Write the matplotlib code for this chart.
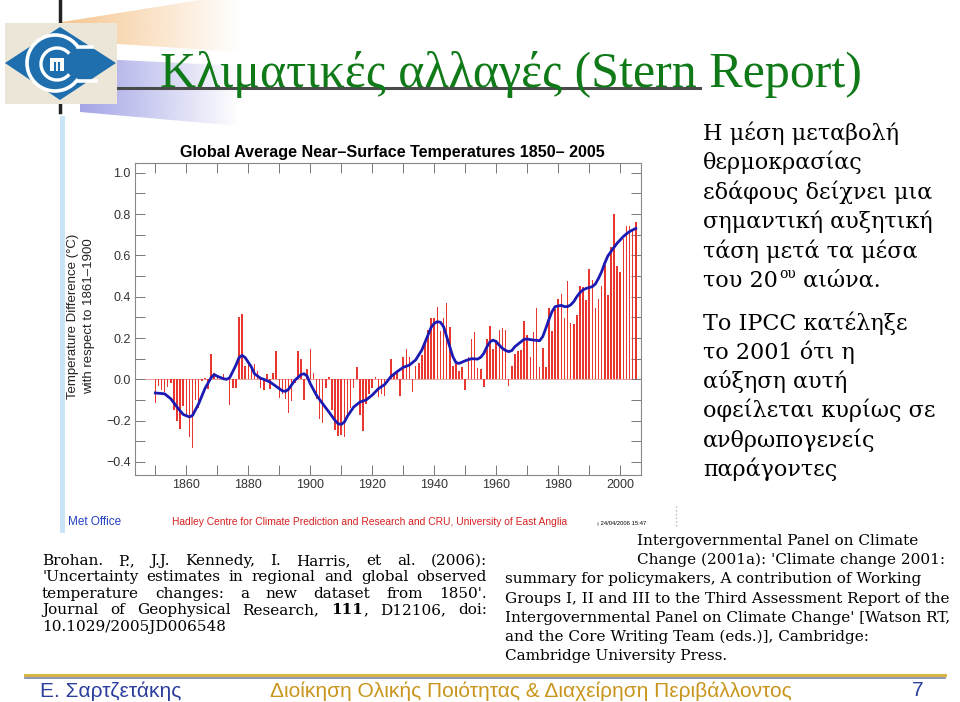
import numpy as np
import matplotlib
matplotlib.use("Agg")
import matplotlib.pyplot as plt
import matplotlib.colors as mcolors
from matplotlib.patches import Polygon, Rectangle, Arc

# annual anomaly (deg C, relative to 1861-1900)
years = np.arange(1850, 2006)
anomaly = [
    -0.115, -0.03, -0.05, -0.06, -0.035, -0.02, -0.15, -0.20, -0.24, -0.13,   # 1850s
    -0.18, -0.28, -0.33, -0.10, -0.14, -0.01, 0.005, -0.045, 0.125, 0.03,     # 1860s
    0.02, 0.01, 0.025, -0.005, -0.125, -0.04, -0.04, 0.30, 0.315, 0.065,      # 1870s
    0.075, 0.065, 0.075, 0.04, -0.04, -0.05, 0.025, -0.045, 0.03, 0.135,      # 1880s
    -0.09, -0.07, -0.095, -0.165, -0.105, -0.02, 0.135, 0.10, -0.10, 0.05,    # 1890s
    0.145, 0.03, -0.095, -0.19, -0.21, -0.04, 0.01, -0.15, -0.245, -0.275,    # 1900s
    -0.27, -0.28, -0.18, -0.14, -0.04, 0.06, -0.175, -0.25, -0.12, -0.07,     # 1910s
    -0.04, 0.01, -0.085, -0.07, -0.08, -0.01, 0.10, 0.03, 0.03, -0.08,        # 1920s
    0.11, 0.145, 0.11, -0.06, 0.065, 0.08, 0.12, 0.18, 0.24, 0.295,           # 1930s
    0.295, 0.35, 0.235, 0.295, 0.37, 0.255, 0.065, 0.075, 0.04, 0.06,         # 1940s
    -0.05, 0.11, 0.195, 0.23, 0.055, 0.05, -0.035, 0.195, 0.26, 0.145,        # 1950s
    0.19, 0.24, 0.25, 0.24, -0.03, 0.065, 0.125, 0.135, 0.14, 0.28,           # 1960s
    0.215, 0.11, 0.23, 0.345, 0.06, 0.15, 0.06, 0.345, 0.235, 0.34,           # 1970s
    0.39, 0.415, 0.295, 0.475, 0.275, 0.27, 0.31, 0.45, 0.445, 0.385,         # 1980s
    0.535, 0.48, 0.345, 0.39, 0.45, 0.555, 0.41, 0.64, 0.80, 0.55,            # 1990s
    0.52, 0.68, 0.74, 0.74, 0.72, 0.76,                                       # 2000s
]

# smoothed curve
smooth_years = [
    1850, 1853, 1855, 1857, 1859, 1861, 1862, 1864, 1866, 1868, 1869, 1870,
    1872, 1873, 1874, 1876, 1877, 1878, 1879, 1881, 1882, 1884, 1885, 1887,
    1889, 1891, 1892, 1893, 1895, 1897, 1898, 1899, 1900, 1902, 1904, 1906,
    1908, 1909, 1910, 1911, 1912, 1914, 1916, 1918, 1920, 1922, 1924, 1926,
    1928, 1930, 1932, 1934, 1936, 1938, 1939, 1940, 1941, 1942, 1943, 1944,
    1945, 1946, 1947, 1948, 1950, 1952, 1954, 1955, 1956, 1957, 1958, 1959,
    1960, 1961, 1962, 1963, 1964, 1965, 1966, 1968, 1969, 1970, 1972, 1974,
    1975, 1976, 1977, 1978, 1979, 1980, 1981, 1982, 1983, 1984, 1985, 1986,
    1987, 1988, 1989, 1990, 1991, 1992, 1993, 1994, 1995, 1996, 1997, 1998,
    1999, 2000, 2001, 2002, 2003, 2004, 2005,
]
smooth_vals = [
    -0.066, -0.07, -0.094, -0.134, -0.17, -0.182, -0.175, -0.118, -0.045, 0.008, 0.023, 0.015,
    0.003, 0.0, 0.008, 0.068, 0.105, 0.116, 0.105, 0.06, 0.027, 0.005, 0.0, -0.013,
    -0.034, -0.056, -0.058, -0.048, -0.005, 0.023, 0.027, 0.015, -0.021, -0.077, -0.118, -0.158,
    -0.199, -0.215, -0.218, -0.207, -0.178, -0.134, -0.11, -0.10, -0.076, -0.045, -0.025, 0.013,
    0.037, 0.058, 0.069, 0.094, 0.142, 0.215, 0.252, 0.271, 0.279, 0.276, 0.255, 0.207,
    0.158, 0.11, 0.081, 0.077, 0.09, 0.10, 0.098, 0.107, 0.126, 0.158, 0.182, 0.19,
    0.182, 0.165, 0.15, 0.14, 0.134, 0.139, 0.158, 0.182, 0.194, 0.195, 0.19, 0.187,
    0.207, 0.247, 0.29, 0.328, 0.352, 0.355, 0.358, 0.352, 0.352, 0.36, 0.376, 0.40,
    0.42, 0.433, 0.44, 0.444, 0.449, 0.462, 0.489, 0.521, 0.562, 0.597, 0.618, 0.639,
    0.659, 0.675, 0.691, 0.704, 0.715, 0.723, 0.73,
]

xticks = [1860, 1880, 1900, 1920, 1940, 1960, 1980, 2000]
yticks = [-0.4, -0.2, 0.0, 0.2, 0.4, 0.6, 0.8, 1.0]

title = "Κλιματικές αλλαγές (Stern Report)"
bullets1 = ["Η μέση μεταβολή", "θερμοκρασίας", "εδάφους δείχνει μια",
            "σημαντική αυξητική", "τάση μετά τα μέσα"]
bullets2 = ["Το IPCC κατέληξε", "το 2001 ότι η", "αύξηση αυτή",
            "οφείλεται κυρίως σε", "ανθρωπογενείς", "παράγοντες"]
ref_left = [
    [[("Brohan.", "normal")], [("P.,", "normal")], [("J.J.", "normal")], [("Kennedy,", "normal")],
     [("I.", "normal")], [("Harris,", "normal")], [("et", "normal")], [("al.", "normal")],
     [("(2006):", "normal")]],
    [[(w, "normal")] for w in "'Uncertainty estimates in regional and global observed".split()],
    [[(w, "normal")] for w in "temperature changes: a new dataset from 1850'.".split()],
    [[("Journal", "normal")], [("of", "normal")], [("Geophysical", "normal")], [("Research,", "normal")],
     [("111", "bold"), (",", "normal")], [("D12106,", "normal")], [("doi:", "normal")]],
]
ref_left_last = "10.1029/2005JD006548"
ref_right = [
    "Intergovernmental Panel on Climate",
    "Change (2001a): 'Climate change 2001:",
    "summary for policymakers, A contribution of Working",
    "Groups I, II and III to the Third Assessment Report of the",
    "Intergovernmental Panel on Climate Change' [Watson RT,",
    "and the Core Writing Team (eds.)], Cambridge:",
    "Cambridge University Press.",
]

W, H = 960, 702
fig = plt.figure(figsize=(W / 100, H / 100), dpi=100)
fig.patch.set_facecolor("white")
bg = fig.add_axes([0, 0, 1, 1])
bg.axis("off")


def fade(ax, verts, color, x0, x1, a0):
    poly = Polygon(verts, closed=True, facecolor="none", edgecolor="none")
    ax.add_patch(poly)
    img = np.zeros((1, 256, 4))
    img[..., :3] = mcolors.to_rgb(color)
    img[..., 3] = np.linspace(a0, 0, 256)
    ys = [v[1] for v in verts]
    im = ax.imshow(img, extent=(x0, x1, max(ys), min(ys)), aspect="auto",
                   interpolation="bilinear", zorder=1)
    im.set_clip_path(poly)


# header decorations
fade(bg, [(62, 22), (200, 0), (240, 0), (240, 52), (118, 44), (62, 25)], "#f3b874", 62, 240, 0.8)
fade(bg, [(80, 58), (240, 66), (240, 126), (80, 112)], "#8c8ee0", 80, 240, 0.8)
bg.plot([60, 60], [0, 24], color="#222222", lw=2.5, zorder=2)
bg.plot([60, 60], [103, 112], color="#222222", lw=2.5, zorder=2)
bg.plot([62, 62], [118, 530], color="#c8e4f6", lw=3.5, zorder=2)
bg.plot([118, 700], [88, 88], color="#4a4a4a", lw=2.2, zorder=2)

# logo
bg.add_patch(Rectangle((5, 23), 112, 81, facecolor="#ebe6d8", edgecolor="none", zorder=3))
bg.add_patch(Polygon([(5, 63), (60, 27), (116, 63), (60, 100)], closed=True,
                     facecolor="#1f6fae", edgecolor="none", zorder=4))
bg.add_patch(Arc((55, 63), 56, 56, theta1=35, theta2=325, color="white", lw=2.6, zorder=5))
bg.add_patch(Arc((57, 64), 32, 32, theta1=40, theta2=320, color="white", lw=2.4, zorder=5))
bg.plot([78, 96], [81, 81], color="white", lw=2.6, zorder=5)
bg.plot([78, 92], [47, 47], color="white", lw=2.6, zorder=5)
bg.add_patch(Rectangle((50, 58), 14, 13, facecolor="white", edgecolor="none", zorder=5))
bg.plot([55, 55], [63, 70], color="#1f6fae", lw=1.5, zorder=6)
bg.plot([59, 59], [63, 70], color="#1f6fae", lw=1.5, zorder=6)

bg.text(160, 75, title, fontsize=36, family="Liberation Serif", color="#107a18",
        ha="left", va="center", zorder=6)

# right column text
for i, s in enumerate(bullets1):
    bg.text(703, 133 + i * 29.5, s, fontsize=16, family="DejaVu Serif", ha="left", va="center")
r = fig.canvas.get_renderer()
t = bg.text(703, 280.5, "του 20", fontsize=16, family="DejaVu Serif", ha="left", va="center")
w1 = t.get_window_extent(renderer=r).width
t2 = bg.text(703 + w1 + 1, 274, "ου", fontsize=10, family="DejaVu Serif", ha="left", va="center")
w2 = t2.get_window_extent(renderer=r).width
bg.text(703 + w1 + w2 + 1, 280.5, " αιώνα.", fontsize=16, family="DejaVu Serif", ha="left", va="center")
for i, s in enumerate(bullets2):
    bg.text(703, 323 + i * 29.2, s, fontsize=16, family="DejaVu Serif", ha="left", va="center")


def justified(words, x0, x1, y, size):
    items, widths = [], []
    for word in words:
        segs, w = [], 0
        for s, wt in word:
            tt = bg.text(0, y, s, fontsize=size, fontweight=wt, family="DejaVu Serif",
                         ha="left", va="center")
            segs.append((tt, w))
            w += tt.get_window_extent(renderer=r).width
        items.append(segs)
        widths.append(w)
    gap = (x1 - x0 - sum(widths)) / (len(words) - 1)
    x = x0
    for segs, w in zip(items, widths):
        for tt, off in segs:
            tt.set_x(x + off)
        x += w + gap


for i, line in enumerate(ref_left):
    justified(line, 42, 487, 561 + i * 16.4, 11)
bg.text(42, 561 + 4 * 16.4, ref_left_last, fontsize=11, family="DejaVu Serif", ha="left", va="center")

for i, s in enumerate(ref_right):
    x = 637 if i < 2 else 505
    bg.text(x, 541 + i * 19.2, s, fontsize=11, family="DejaVu Serif", ha="left", va="center")

# footer
bg.plot([25, 945], [675, 675], color="#d8b443", lw=2.2, zorder=2)
bg.plot([25, 945], [677.5, 677.5], color="#7c83a8", lw=1.2, zorder=2)
foot = "Liberation Sans"
bg.text(40, 691, "Ε. Σαρτζετάκης", fontsize=15, family=foot, color="#2c3e9c", ha="left", va="center")
bg.text(531, 691, "Διοίκηση Ολικής Ποιότητας & Διαχείρηση Περιβάλλοντος", fontsize=15,
        family=foot, color="#c9951c", ha="center", va="center")
bg.text(918, 691, "7", fontsize=15, family=foot, color="#2c3e9c", ha="center", va="center")

# chart image texts
sans = "Liberation Sans"
bg.text(392, 153, "Global Average Near–Surface Temperatures 1850– 2005", fontsize=11.6,
        fontweight="bold", family=sans, ha="center", va="center")
bg.text(73, 316, "Temperature Difference (°C)", fontsize=9.5, family=sans, rotation=90,
        ha="center", va="center", color="#222222")
bg.text(89, 316, "with respect to 1861–1900", fontsize=9.5, family=sans, rotation=90,
        ha="center", va="center", color="#222222")
bg.text(600, 437, "Based on Brohan et al.(2006)", fontsize=6.3, family=sans, ha="right", va="center")
bg.text(68, 522, "Met Office", fontsize=8.5, family=sans, color="#2440c0", ha="left", va="center")
bg.text(172, 522, "Hadley Centre for Climate Prediction and Research and CRU, University of East Anglia",
        fontsize=7.4, family=sans, color="#d82020", ha="left", va="center")
bg.text(597, 523, "¡ 24/04/2006 15:47", fontsize=4.2, family=sans, ha="left", va="center")
bg.plot([676, 676], [506, 528], color="#bbbbbb", lw=1, ls=":", zorder=2)

bg.set_xlim(0, W)
bg.set_ylim(H, 0)

# the chart
ax = fig.add_axes([135 / W, 1 - 475 / H, (641 - 135) / W, (475 - 163) / H])
ax.axhline(0, color="#eaa0a0", lw=0.7, zorder=1)
ax.bar(years, anomaly, width=0.5, color="#e8372e", linewidth=0, zorder=2)
ax.plot(smooth_years, smooth_vals, color="#1b1bb4", lw=2, zorder=3)
ax.set_xlim(1843.45, 2006.7)
ax.set_ylim(-0.463, 1.047)
ax.set_xticks(xticks)
ax.set_xticks(range(1850, 2006, 10), minor=True)
ax.set_yticks(yticks)
ax.set_yticks(np.arange(-0.4, 1.01, 0.1), minor=True)
ax.set_yticklabels([("%.1f" % v).replace("-", "−") for v in yticks])
ax.tick_params(which="both", direction="in", length=7, width=0.7, color="#777777",
               top=True, right=True, labelsize=9, labelcolor="#333333", pad=3)
for lab in ax.get_xticklabels() + ax.get_yticklabels():
    lab.set_family(sans)
for sp in ax.spines.values():
    sp.set_color("#888888")
    sp.set_linewidth(0.8)

fig.savefig("out.png", dpi=100, facecolor="white")
